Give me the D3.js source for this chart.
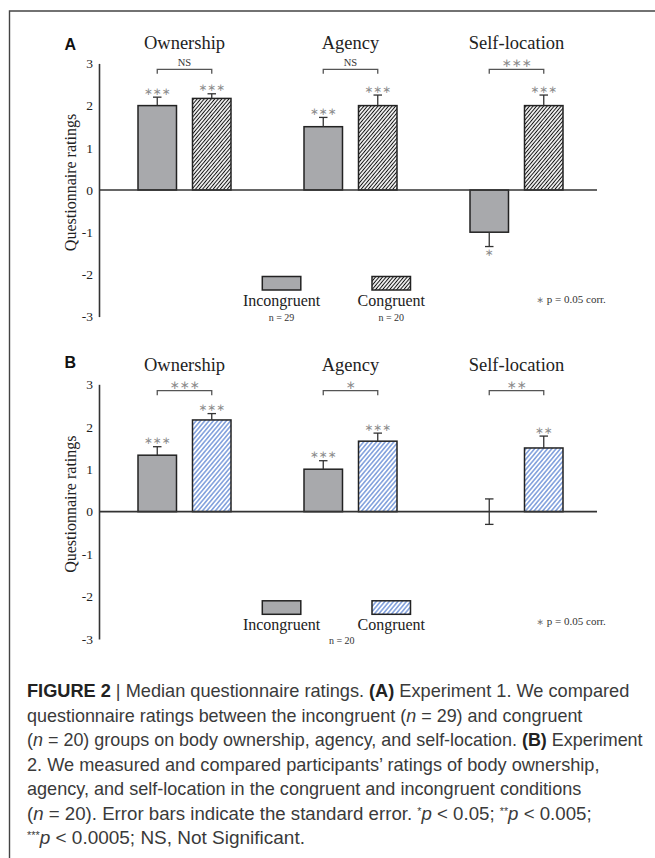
<!DOCTYPE html>
<html>
<head>
<meta charset="utf-8">
<script src="https://cdn.jsdelivr.net/npm/d3@7"></script>
<style>
  html, body { margin: 0; padding: 0; background: #fff; }
  svg { display: block; }
</style>
</head>
<body>
<svg id="chart" width="655" height="858"></svg>
<script>
// ---------------- DATA ----------------
const categories = ["Ownership", "Agency", "Self-location"];
const conditions = ["Incongruent", "Congruent"];
const yTicks = [3, 2, 1, 0, -1, -2, -3];

// Panel A (Experiment 1)
const expA_incongruent = [2.0, 1.5, -1.0];
const expA_incongruentErr = [0.2, 0.22, 0.34];
const expA_congruent = [2.17, 2.0, 2.0];
const expA_congruentErr = [0.11, 0.25, 0.25];
const expA_incongruentStars = ["∗∗∗", "∗∗∗", "∗"];
const expA_congruentStars = ["∗∗∗", "∗∗∗", "∗∗∗"];
const expA_comparison = ["NS", "NS", "∗∗∗"];
const expA_n = ["n = 29", "n = 20"];

// Panel B (Experiment 2)
const expB_incongruent = [1.33, 1.0, 0.0];
const expB_incongruentErr = [0.2, 0.2, 0.3];
const expB_congruent = [2.16, 1.66, 1.5];
const expB_congruentErr = [0.15, 0.19, 0.28];
const expB_incongruentStars = ["∗∗∗", "∗∗∗", ""];
const expB_congruentStars = ["∗∗∗", "∗∗∗", "∗∗"];
const expB_comparison = ["∗∗∗", "∗", "∗∗"];
const expB_n = "n = 20";

const footnoteStar = "∗";
const footnoteText = " p = 0.05 corr.";
const yLabel = "Questionnaire ratings";

const captionLines = [
  [["FIGURE 2", "b"], [" | ", "n"], ["Median questionnaire ratings. ", "n"], ["(A)", "b"], [" Experiment 1. We compared", "n"]],
  [["questionnaire ratings between the incongruent (", "n"], ["n", "i"], [" = 29) and congruent", "n"]],
  [["(", "n"], ["n", "i"], [" = 20) groups on body ownership, agency, and self-location. ", "n"], ["(B)", "b"], [" Experiment", "n"]],
  [["2. We measured and compared participants\u2019 ratings of body ownership,", "n"]],
  [["agency, and self-location in the congruent and incongruent conditions", "n"]],
  [["(", "n"], ["n", "i"], [" = 20). Error bars indicate the standard error. ", "n"], ["*", "s"], ["p", "i"], [" < 0.05; ", "n"], ["**", "s"], ["p", "i"], [" < 0.005;", "n"]],
  [["***", "s"], ["p", "i"], [" < 0.0005; NS, Not Significant.", "n"]]
];

// ---------------- DRAW ----------------
const svg = d3.select("#chart");
const SERIF = "'Liberation Serif', 'Times New Roman', serif";
const SANS = "'Liberation Sans', Arial, sans-serif";
const STAR = "'DejaVu Sans', sans-serif";

// frame (cropped on right and bottom)
svg.append("path").attr("d", "M9.5,858 L9.5,11 L655,11")
  .attr("fill", "none").attr("stroke", "#444").attr("stroke-width", 1.4);

const defs = svg.append("defs");
function hatch(id, color, period, sw) {
  const p = defs.append("pattern").attr("id", id)
    .attr("patternUnits", "userSpaceOnUse")
    .attr("width", period).attr("height", 10)
    .attr("patternTransform", "rotate(40)");
  p.append("rect").attr("width", period).attr("height", 10).attr("fill", "#fff");
  p.append("line").attr("x1", period / 2).attr("x2", period / 2)
    .attr("y1", 0).attr("y2", 10).attr("stroke", color).attr("stroke-width", sw);
}
hatch("hatchA", "#111", 2.7, 1.05);
hatch("hatchB", "#3a6bc9", 3.3, 1.0);

const x0 = d3.scaleBand().domain(categories).range([101.5, 599.5]).paddingInner(0).paddingOuter(0);
const x1 = d3.scaleBand().domain(conditions).range([-46.5, 46.5]).paddingInner(0.2936).paddingOuter(0);
const barW = x1.bandwidth();

function drawPanel(cfg) {
  const g = svg.append("g");
  const y = d3.scaleLinear().domain([-3, 3]).range(cfg.yRange);
  const axisX = 99;

  // panel letter
  g.append("text").attr("x", 64.5).attr("y", cfg.letterY).text(cfg.letter)
    .attr("font-family", SANS).attr("font-weight", "bold").attr("font-size", 16).attr("fill", "#111");

  // category titles
  g.selectAll(".cat").data(categories).enter().append("text")
    .attr("x", d => x0(d) + x0.bandwidth() / 2)
    .attr("y", cfg.titleY)
    .attr("text-anchor", "middle")
    .attr("font-family", SERIF).attr("font-size", 18.5).attr("fill", "#222")
    .text(d => d);

  // y axis
  const ax = g.append("g").attr("transform", `translate(${axisX},0)`)
    .call(d3.axisLeft(y).tickValues(yTicks).tickSize(0).tickSizeOuter(0).tickPadding(6)
      .tickFormat(d => String(d)));
  ax.select(".domain").attr("stroke", "#333").attr("stroke-width", 1.6);
  ax.selectAll("text").attr("font-family", SERIF).attr("font-size", 13.5).attr("fill", "#222");

  // y label
  g.append("text")
    .attr("transform", `translate(76,${y(0) - 7.5}) rotate(-90)`)
    .attr("text-anchor", "middle")
    .attr("font-family", SERIF).attr("font-size", 16).attr("fill", "#222")
    .text(yLabel);

  // bars data
  const rows = [];
  categories.forEach((c, i) => {
    rows.push({ cat: c, cond: "Incongruent", v: cfg.inc[i], e: cfg.incErr[i], s: cfg.incStars[i] });
    rows.push({ cat: c, cond: "Congruent", v: cfg.con[i], e: cfg.conErr[i], s: cfg.conStars[i] });
  });
  const cx = d => x0(d.cat) + x0.bandwidth() / 2 + x1(d.cond) + barW / 2;

  g.selectAll(".bar").data(rows.filter(d => d.v !== 0)).enter().append("rect")
    .attr("x", d => cx(d) - barW / 2)
    .attr("y", d => Math.min(y(d.v), y(0)))
    .attr("width", barW)
    .attr("height", d => Math.abs(y(d.v) - y(0)))
    .attr("fill", d => d.cond === "Incongruent" ? "#a8a9ac" : `url(#${cfg.hatch})`)
    .attr("stroke", "#222").attr("stroke-width", 1.5);

  // baseline
  g.append("line").attr("x1", axisX).attr("x2", 597).attr("y1", y(0)).attr("y2", y(0))
    .attr("stroke", "#333").attr("stroke-width", 1.6);

  // error bars
  const capW = 8.5;
  rows.forEach(d => {
    const c = cx(d);
    const ends = d.v > 0 ? [d.v, d.v + d.e] : d.v < 0 ? [d.v, d.v - d.e] : [-d.e, d.e];
    g.append("line").attr("x1", c).attr("x2", c).attr("y1", y(ends[0])).attr("y2", y(ends[1]))
      .attr("stroke", "#333").attr("stroke-width", 1.3);
    const caps = d.v === 0 ? ends : [ends[1]];
    caps.forEach(v => g.append("line").attr("x1", c - capW / 2).attr("x2", c + capW / 2)
      .attr("y1", y(v)).attr("y2", y(v)).attr("stroke", "#333").attr("stroke-width", 1.3));
    if (d.s) {
      const yy = d.v >= 0 ? y(d.v + d.e) - 6.5 : y(d.v - d.e) + 5;
      g.append("text").attr("x", c).attr("y", yy).attr("text-anchor", "middle")
        .attr("dominant-baseline", "central")
        .attr("font-family", STAR).attr("font-size", 10.5).attr("fill", "#8c8c8c")
        .text(d.s);
    }
  });

  // comparison brackets
  categories.forEach((c, i) => {
    const a = x0(c) + x0.bandwidth() / 2 + x1("Incongruent") + barW / 2;
    const b = x0(c) + x0.bandwidth() / 2 + x1("Congruent") + barW / 2;
    const by = cfg.bracketY;
    g.append("path").attr("d", `M${a},${by + 4.5} L${a},${by} L${b},${by} L${b},${by + 4.5}`)
      .attr("fill", "none").attr("stroke", "#555").attr("stroke-width", 1.3);
    const lab = cfg.comp[i];
    const isNS = lab === "NS";
    g.append("text").attr("x", (a + b) / 2).attr("y", isNS ? by - 3.5 : by - 6)
      .attr("text-anchor", "middle")
      .attr("dominant-baseline", isNS ? "alphabetic" : "central")
      .attr("font-family", isNS ? SERIF : STAR)
      .attr("font-size", isNS ? 10.5 : 12)
      .attr("fill", isNS ? "#333" : "#8c8c8c")
      .text(lab);
  });

  // legend
  const lg = cfg.legend;
  conditions.forEach((cond, i) => {
    const lx = [262.3, 372][i];
    g.append("rect").attr("x", lx).attr("y", lg.boxY).attr("width", 38.5).attr("height", 13.5)
      .attr("fill", cond === "Incongruent" ? "#a8a9ac" : `url(#${cfg.hatch})`)
      .attr("stroke", "#222").attr("stroke-width", 1.5);
    g.append("text").attr("x", lx + 19.25).attr("y", lg.textY).attr("text-anchor", "middle")
      .attr("font-family", SERIF).attr("font-size", 16).attr("fill", "#222").text(cond);
  });
  lg.n.forEach(n => {
    g.append("text").attr("x", n.x).attr("y", lg.nY).attr("text-anchor", "middle")
      .attr("font-family", SERIF).attr("font-size", 10).attr("fill", "#333").text(n.t);
  });
  const note = g.append("text").attr("x", 536.5).attr("y", lg.noteY)
    .attr("font-family", SERIF).attr("font-size", 11).attr("fill", "#333");
  note.append("tspan").attr("font-family", STAR).attr("font-size", 9).attr("fill", "#777").text(footnoteStar);
  note.append("tspan").text(footnoteText);
}

drawPanel({
  letter: "A", letterY: 50, titleY: 49, yRange: [316.6, 63.4], bracketY: 69.3,
  inc: expA_incongruent, incErr: expA_incongruentErr, incStars: expA_incongruentStars,
  con: expA_congruent, conErr: expA_congruentErr, conStars: expA_congruentStars,
  comp: expA_comparison, hatch: "hatchA",
  legend: { boxY: 276.5, textY: 305.5, nY: 321, noteY: 302.5,
            n: [{ x: 281.5, t: expA_n[0] }, { x: 391.2, t: expA_n[1] }] }
});

drawPanel({
  letter: "B", letterY: 368.3, titleY: 371, yRange: [639, 384.3], bracketY: 390.7,
  inc: expB_incongruent, incErr: expB_incongruentErr, incStars: expB_incongruentStars,
  con: expB_congruent, conErr: expB_congruentErr, conStars: expB_congruentStars,
  comp: expB_comparison, hatch: "hatchB",
  legend: { boxY: 600.8, textY: 630, nY: 644, noteY: 625,
            n: [{ x: 341.7, t: expB_n }] }
});

// ---------------- CAPTION ----------------
const capX = 27;
const capBase = [697, 721.6, 746.1, 770.6, 795.1, 819.6, 844];
const capEnd = [630, 583, 643, 600, 582, 592, 305];
captionLines.forEach((segs, i) => {
  const t = svg.append("text").attr("x", 0).attr("y", 0)
    .attr("font-family", SANS).attr("font-size", 17.5).attr("fill", "#3a3a3a");
  segs.forEach(([s, st]) => {
    const ts = t.append("tspan").text(s);
    if (st === "b") ts.attr("font-weight", "bold").attr("fill", "#222");
    if (st === "i") ts.attr("font-style", "italic");
    if (st === "s") ts.attr("font-size", 10).attr("baseline-shift", "super");
  });
  const w = t.node().getBBox().width;
  const sx = (capEnd[i] - capX) / w;
  t.attr("transform", `translate(${capX},${capBase[i]}) scale(${sx},1)`);
});
</script>
</body>
</html>
